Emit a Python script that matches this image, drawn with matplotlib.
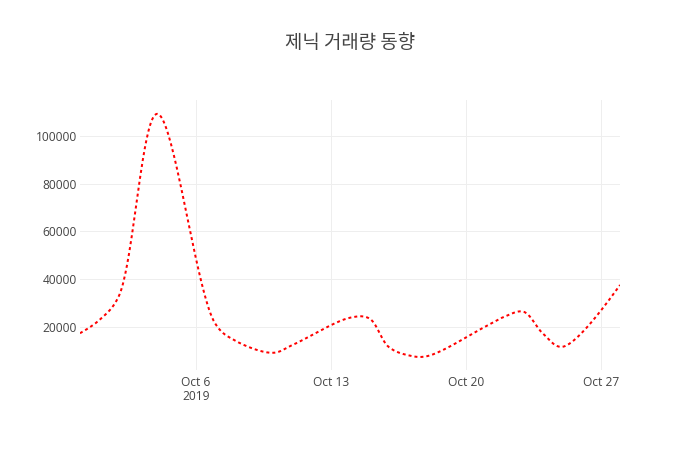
import numpy as np
import matplotlib
matplotlib.use("Agg")
import matplotlib.pyplot as plt
import matplotlib.dates as mdates
import datetime as dt

title = "제닉 거래량 동향"
dates = ["2019-09-30", "2019-10-01", "2019-10-02", "2019-10-04", "2019-10-07",
         "2019-10-08", "2019-10-10", "2019-10-11", "2019-10-14", "2019-10-15",
         "2019-10-16", "2019-10-17", "2019-10-18", "2019-10-21", "2019-10-22",
         "2019-10-23", "2019-10-24", "2019-10-25", "2019-10-28"]
volume = [17300, 22800, 32600, 109200, 21500,
          14400, 9100, 12300, 23800, 23500,
          11600, 8100, 7700, 20000, 24200,
          26300, 17200, 11600, 37500]
xtick_dates = ["2019-10-06", "2019-10-13", "2019-10-20", "2019-10-27"]
xtick_labels = ["Oct 6\n2019", "Oct 13", "Oct 20", "Oct 27"]
ytick_values = [20000, 40000, 60000, 80000, 100000]

W, H, DPI = 700, 450, 100
fig = plt.figure(figsize=(W / DPI, H / DPI), dpi=DPI)
L, R, T, B = 80, 620, 100, 370
ax = fig.add_axes([L / W, 1 - B / H, (R - L) / W, (B - T) / H])

xd = mdates.date2num([dt.datetime.strptime(d, "%Y-%m-%d") for d in dates])
yv = np.array(volume, dtype=float)
ax.set_xlim(xd[0], xd[-1])
ax.set_ylim(1900, 115000)

# plotly-style spline in pixel space
pts = ax.transData.transform(np.column_stack([xd, yv]))
s = 1.0
def tangent(p0, p1, p2):
    d1 = p0 - p1
    d2 = p2 - p1
    d1a = np.hypot(*d1) ** 0.5
    d2a = np.hypot(*d2) ** 0.5
    num = (d2a * d2a * d1 - d1a * d1a * d2) * s
    den1 = 3 * d2a * (d1a + d2a)
    den2 = 3 * d1a * (d1a + d2a)
    return p1 + num / den1, p1 - num / den2
tans = [tangent(pts[i - 1], pts[i], pts[i + 1]) for i in range(1, len(pts) - 1)]
t = np.linspace(0, 1, 40)[:, None]
segs = []
P0, C, P1 = pts[0], tans[0][0], pts[1]
segs.append((1 - t) ** 2 * P0 + 2 * (1 - t) * t * C + t ** 2 * P1)
for i in range(2, len(pts) - 1):
    P0 = pts[i - 1]
    C1 = tans[i - 2][1]
    C2 = tans[i - 1][0]
    P1 = pts[i]
    segs.append((1 - t) ** 3 * P0 + 3 * (1 - t) ** 2 * t * C1 + 3 * (1 - t) * t ** 2 * C2 + t ** 3 * P1)
P0, C, P1 = pts[-2], tans[-1][1], pts[-1]
segs.append((1 - t) ** 2 * P0 + 2 * (1 - t) * t * C + t ** 2 * P1)
curve = np.vstack(segs)
curve_data = ax.transData.inverted().transform(curve)

ax.plot(curve_data[:, 0], curve_data[:, 1], color="red", lw=1.44,
        linestyle=(0, (1.5, 1.5)), solid_capstyle="butt", dash_capstyle="butt")

ax.set_xticks(mdates.date2num([dt.datetime.strptime(d, "%Y-%m-%d") for d in xtick_dates]))
ax.set_xticklabels(xtick_labels, fontsize=8.64, color="#444444", family="Open Sans",
                   linespacing=1.1)
ax.set_yticks(ytick_values)
ax.set_yticklabels([str(v) for v in ytick_values], fontsize=8.64, color="#444444",
                   family="Open Sans")
ax.tick_params(axis="both", length=0)
ax.tick_params(axis="x", pad=4)
ax.tick_params(axis="y", pad=2)
for sp in ax.spines.values():
    sp.set_visible(False)
ax.grid(True, color="#eeeeee", lw=0.72)
ax.set_axisbelow(True)

fig.text(350 / W, 1 - 43 / H, title, ha="center", va="center", fontsize=13.6,
         color="#444444", family=["Noto Sans CJK KR", "DejaVu Sans"])

fig.savefig("out.png", dpi=DPI)
